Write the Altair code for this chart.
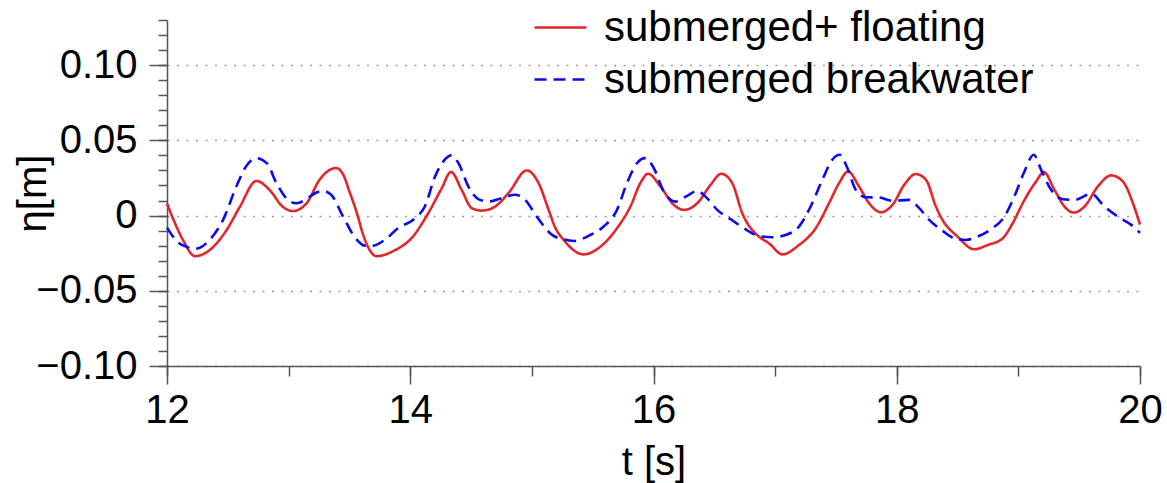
import altair as alt
import pandas as pd

# Free-surface elevation time series at the gauge
t_floating = [
    12.00, 12.06, 12.13, 12.23, 12.35, 12.49, 12.60, 12.735, 12.844, 12.95,
    13.036, 13.146, 13.256, 13.39, 13.45, 13.50, 13.56, 13.61, 13.66, 13.723,
    13.874, 14.011, 14.148, 14.258, 14.335, 14.423, 14.505, 14.588, 14.698, 14.808,
    14.958, 15.055, 15.137, 15.192, 15.26, 15.425, 15.563, 15.70, 15.81, 15.892,
    15.955, 16.057, 16.167, 16.25, 16.36, 16.469, 16.557, 16.647, 16.73, 16.757,
    16.867, 16.949, 17.059, 17.196, 17.334, 17.443, 17.526, 17.60, 17.69, 17.773,
    17.869, 17.965, 18.061, 18.157, 18.24, 18.322, 18.363, 18.50, 18.637, 18.747,
    18.871, 18.953, 19.05, 19.146, 19.209, 19.297, 19.379, 19.453, 19.544, 19.653,
    19.763, 19.859, 19.942, 20.00,
]
eta_floating = [
    0.008, -0.004, -0.016, -0.027, -0.023, -0.0096, 0.006, 0.023, 0.017, 0.006,
    0.003, 0.008, 0.024, 0.0316, 0.027, 0.016, 0.002, -0.012, -0.022, -0.027,
    -0.023, -0.015, 0.0016, 0.018, 0.029, 0.017, 0.005, 0.0033, 0.006, 0.015,
    0.030, 0.0216, 0.004, -0.008, -0.016, -0.0258, -0.0207, -0.0084, 0.006, 0.0216,
    0.0278, 0.0193, 0.0071, 0.0038, 0.0082, 0.0204, 0.0278, 0.0216, 0.0016, -0.003,
    -0.014, -0.0184, -0.0258, -0.0196, -0.0084, 0.0082, 0.0216, 0.0293, 0.0193, 0.0082,
    0.0022, 0.0071, 0.0204, 0.0276, 0.0238, 0.006, -0.001, -0.014, -0.0224, -0.0196,
    -0.0151, -0.0051, 0.0104, 0.0227, 0.0289, 0.0171, 0.006, 0.002, 0.006, 0.0193,
    0.0267, 0.0227, 0.0082, -0.006,
]

t_submerged = [
    12.00, 12.05, 12.10, 12.17, 12.24, 12.35, 12.46, 12.57, 12.65, 12.735,
    12.82, 12.90, 12.995, 13.064, 13.146, 13.229, 13.28, 13.35, 13.448, 13.55,
    13.627, 13.68, 13.79, 13.90, 14.039, 14.12, 14.204, 14.272, 14.335, 14.396,
    14.478, 14.56, 14.643, 14.753, 14.862, 14.945, 15.04, 15.16, 15.26, 15.343,
    15.48, 15.59, 15.70, 15.782, 15.865, 15.933, 16.002, 16.084, 16.18, 16.276,
    16.359, 16.44, 16.524, 16.634, 16.77, 16.867, 16.977, 17.086, 17.196, 17.292,
    17.388, 17.47, 17.531, 17.594, 17.663, 17.746, 17.855, 17.965, 18.102, 18.185,
    18.267, 18.375, 18.473, 18.569, 18.665, 18.775, 18.885, 18.967, 19.05, 19.126,
    19.187, 19.269, 19.365, 19.461, 19.599, 19.709, 19.818, 19.928, 20.00,
]
eta_submerged = [
    -0.008, -0.014, -0.0184, -0.021, -0.022, -0.0162, -0.003, 0.0193, 0.0327, 0.0382,
    0.0349, 0.0216, 0.0104, 0.0082, 0.011, 0.0153, 0.0164, 0.0138, -0.0007, -0.015,
    -0.020, -0.0202, -0.0162, -0.0084, -0.0018, 0.006, 0.026, 0.036, 0.040, 0.0349,
    0.0193, 0.0109, 0.0093, 0.0116, 0.0138, 0.0104, -0.0007, -0.0125, -0.0158, -0.0169,
    -0.0129, -0.0073, 0.0038, 0.0216, 0.0349, 0.0382, 0.0316, 0.016, 0.0093, 0.0131,
    0.0164, 0.0116, 0.0038, -0.0024, -0.0098, -0.0136, -0.0144, -0.0129, -0.0073, 0.006,
    0.0238, 0.0371, 0.0404, 0.0316, 0.0171, 0.0122, 0.012, 0.0098, 0.0104, 0.0049,
    -0.0029, -0.010, -0.0151, -0.0162, -0.014, -0.0091, -0.0007, 0.0127, 0.0293, 0.0404,
    0.0304, 0.0171, 0.0109, 0.0104, 0.0144, 0.006, -0.0007, -0.0062, -0.0115,
]

series_names = ["submerged+ floating", "submerged breakwater"]
line_colors = ["#e3262b", "#0a0af2"]
line_dashes = [[1, 0], [12, 7]]

x_major = [12, 14, 16, 18, 20]
x_minor = [12, 13, 14, 15, 16, 17, 18, 19, 20]
y_major = [-0.10, -0.05, 0.0, 0.05, 0.10]
y_minor = [-0.10, -0.09, -0.08, -0.07, -0.06, -0.05, -0.04, -0.03, -0.02, -0.01,
           0.0, 0.01, 0.02, 0.03, 0.04, 0.05, 0.06, 0.07, 0.08, 0.09, 0.10,
           0.11, 0.12, 0.13]

df = pd.concat([
    pd.DataFrame({"t": t_floating, "eta": eta_floating, "case": series_names[0]}),
    pd.DataFrame({"t": t_submerged, "eta": eta_submerged, "case": series_names[1]}),
], ignore_index=True)

FONT = "Liberation Sans"

x_scale = alt.Scale(domain=[12, 20], nice=False, zero=False)
y_scale = alt.Scale(domain=[-0.10, 0.13], nice=False, zero=False)

legend = alt.Legend(
    title=None,
    orient="none",
    legendX=366,
    legendY=-20,
    direction="vertical",
    symbolType="stroke",
    symbolSize=2704,
    symbolStrokeWidth=2.5,
    labelFont=FONT,
    labelFontSize=42,
    labelColor="black",
    labelOffset=16,
    labelLimit=700,
    rowPadding=3,
    padding=0,
)

lines = alt.Chart(df).mark_line(interpolate="monotone", strokeWidth=2.6).encode(
    x=alt.X(
        "t:Q",
        scale=x_scale,
        axis=alt.Axis(
            orient="bottom",
            values=x_major,
            format="d",
            tickSize=18,
            labelPadding=6,
            labelFlush=False,
            grid=False,
            title="t [s]",
            titleY=108,
            titleBaseline="alphabetic",
        ),
    ),
    y=alt.Y(
        "eta:Q",
        scale=y_scale,
        axis=alt.Axis(
            orient="left",
            values=y_major,
            tickSize=18,
            labelPadding=12,
            labelFlush=False,
            labelExpr="datum.value == 0 ? '0' : format(datum.value, '.2f')",
            grid=True,
            gridDash=[2, 7.5],
            gridColor="#9a9a9a",
            gridWidth=1.3,
            title="η[m]",
            titleAngle=-90,
            titleX=-122,
            titleY=173,
            titleBaseline="alphabetic",
        ),
    ),
    color=alt.Color("case:N", scale=alt.Scale(domain=series_names, range=line_colors), legend=legend),
    strokeDash=alt.StrokeDash("case:N", scale=alt.Scale(domain=series_names, range=line_dashes), legend=legend),
    order=alt.Order("t:Q"),
)

# Invisible layer carrying the minor tick marks of both axes
minor = alt.Chart(df).mark_line(opacity=0).encode(
    x=alt.X(
        "t:Q",
        scale=x_scale,
        axis=alt.Axis(orient="bottom", values=x_minor, tickSize=10, labels=False,
                      domain=False, grid=False, title=None),
    ),
    y=alt.Y(
        "eta:Q",
        scale=y_scale,
        axis=alt.Axis(orient="left", values=y_minor, tickSize=9, labels=False,
                      domain=False, grid=False, title=None),
    ),
)

chart = (
    alt.layer(lines, minor)
    .resolve_axis(x="independent", y="independent")
    .properties(
        width=973,
        height=346,
        padding={"left": 167, "top": 20, "right": 27, "bottom": 117},
        autosize=alt.AutoSizeParams(type="none"),
    )
    .configure_view(stroke=None)
    .configure_axis(
        labelFont=FONT,
        labelFontSize=40,
        labelColor="black",
        titleFont=FONT,
        titleFontSize=40,
        titleFontWeight="normal",
        titleColor="black",
        domainColor="#555555",
        domainWidth=1.5,
        tickColor="#555555",
        tickWidth=1.5,
    )
)

chart.save("out.html", embed_options={"renderer": "svg", "actions": False})
